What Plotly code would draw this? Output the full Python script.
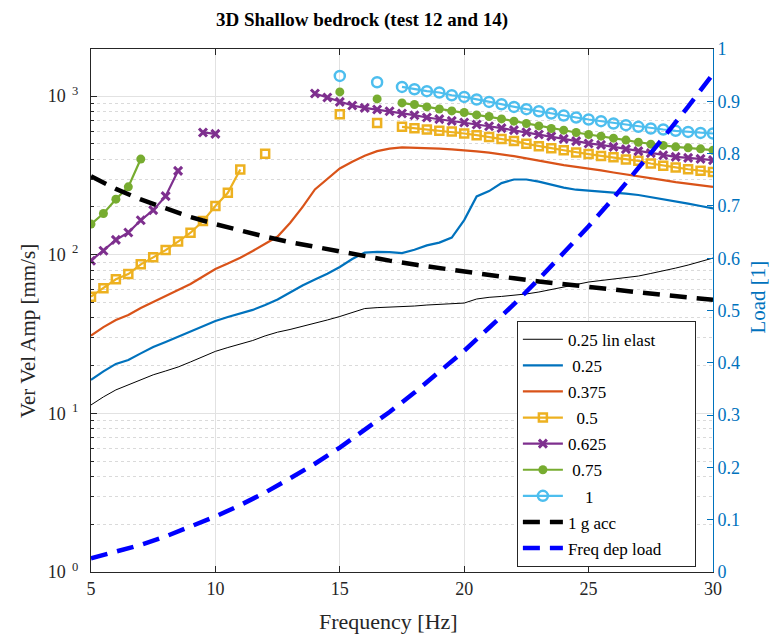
import plotly.graph_objects as go

freq = [5.0, 5.5, 6.0, 6.5, 7.0, 7.5, 8.0, 8.5, 9.0, 9.5,
        10.0, 10.5, 11.0, 11.5, 12.0, 12.5, 13.0, 13.5, 14.0, 14.5,
        15.0, 15.5, 16.0, 16.5, 17.0, 17.5, 18.0, 18.5, 19.0, 19.5,
        20.0, 20.5, 21.0, 21.5, 22.0, 22.5, 23.0, 23.5, 24.0, 24.5,
        25.0, 25.5, 26.0, 26.5, 27.0, 27.5, 28.0, 28.5, 29.0, 29.5, 30.0]

lin_elast = [11.3, 12.7, 14.06, 15.1, 16.4, 17.5, 18.5, 19.6, 21.1, 22.9,
             24.6, 26.0, 27.4, 28.8, 30.8, 32.5, 33.8, 35.3, 37.0, 38.8,
             40.8, 43.3, 45.8, 46.4, 46.6, 46.8, 47.5, 48.2, 48.6, 49.1,
             49.6, 52.6, 53.9, 54.6, 55.3, 56.6, 58.2, 60.4, 62.6, 64.9,
             67.3, 68.8, 70.3, 71.6, 73.4, 76.2, 78.9, 82.4, 86.1, 90.6, 95.3]

amp_025 = [16.25, 18.4, 20.5, 21.7, 23.9, 26.2, 28.2, 30.5, 32.7, 35.6,
           38.2, 40.5, 42.6, 44.9, 48.2, 52.2, 57.8, 64.0, 69.8, 75.9,
           83.7, 94.0, 103.2, 104.4, 104, 102.5, 107.4, 114.6, 119.3, 128.3,
           165.4, 233, 252, 283, 298, 298, 289, 277, 265, 257,
           254, 251, 248, 243, 238, 231, 224, 218, 210, 203, 196]

amp_0375 = [30.9, 35.0, 38.8, 41.7, 46.2, 50.7, 55.0, 59.9, 65.4, 72.9,
            81.3, 88.0, 95.7, 105.5, 116.8, 130.2, 158.4, 199.6, 258, 300,
            350, 386, 421, 450, 467, 475, 473, 470, 467, 461,
            456, 448, 440, 431, 418, 405, 391, 378, 367, 358,
            350, 340, 330, 320, 311, 303, 295, 287, 281, 275, 268]

amp_05 = [54.4, 61.4, 70, 75.6, 87, 96.3, 107, 121, 137.6, 163,
          203, 245.6, 345, None, 433, None, None, None, None, None,
          769, None, None, 678, None, 640, 628, 616, 604, 598,
          581, 567, 553, 537, 522, 500, 483, 470, 456, 441,
          431, 420, 411, 399, 391, 376, 364, 355, 346, 338, 332]

amp_0625 = [91.7, 106, 124, 138, 165, 191, 234, 338, None, 590,
            578, None, None, None, None, None, None, None, 1038, 980,
            919, 873, 843, 823, 803, 777, 758, 733, 716, 698,
            682, 662, 646, 628, 610, 592, 573, 557, 538, 520,
            503, 493, 479, 463, 450, 437, 424, 414, 408, 402, 395]

amp_075 = [156, 182, 224, 268, 401, None, None, None, None, None,
           None, None, None, None, None, None, None, None, None, None,
           1063, None, None, 960, None, 906, 885, 855, 830, 807,
           788, 761, 744, 718, 695, 672, 649, 625, 610, 590,
           573, 559, 543, 528, 512, 498, 489, 479, 472, 465, 456]

amp_1 = [None, None, None, None, None, None, None, None, None, None,
         None, None, None, None, None, None, None, None, None, None,
         1340, None, None, 1223, None, 1143, 1105, 1074, 1054, 1013,
         988, 952, 919, 889, 855, 827, 803, 777, 755, 733,
         712, 695, 672, 656, 640, 625, 616, 604, 595, 586, 581]

freq_int = [5, 6, 7, 8, 9, 10, 11, 12, 13, 14, 15, 16, 17, 18, 19, 20,
            21, 22, 23, 24, 25, 26, 27, 28, 29, 30]
acc_1g = [312, 260, 223, 195, 173, 156, 142, 130, 120, 112, 104, 97.6, 91.8,
          86.7, 82.2, 78.1, 74.3, 71.0, 67.9, 65.1, 62.5, 60.1, 57.8, 55.8,
          53.8, 52.0]
load = [0.026, 0.038, 0.052, 0.068, 0.086, 0.106, 0.128, 0.152, 0.179, 0.207,
        0.238, 0.271, 0.306, 0.343, 0.382, 0.423, 0.467, 0.512, 0.560, 0.610,
        0.661, 0.715, 0.771, 0.830, 0.890, 0.952]

NB = "\u00a0"
names = ["0.25 lin elast" + NB * 8, NB + "0.25", "0.375", NB * 2 + "0.5", "0.625",
         NB + "0.75", NB * 4 + "1", "1 g acc", "Freq dep load"]

FONT = "Liberation Serif"
BLUE = "#0072BD"

fig = go.Figure()
fig.add_trace(go.Scatter(x=freq, y=lin_elast, mode="lines", name=names[0],
                         line=dict(color="black", width=1)))
fig.add_trace(go.Scatter(x=freq, y=amp_025, mode="lines", name=names[1],
                         line=dict(color=BLUE, width=2.2)))
fig.add_trace(go.Scatter(x=freq, y=amp_0375, mode="lines", name=names[2],
                         line=dict(color="#D95319", width=2.2)))
fig.add_trace(go.Scatter(x=freq, y=amp_05, mode="lines+markers", name=names[3],
                         line=dict(color="#EDB120", width=2.2),
                         marker=dict(symbol="square-open", size=8,
                                     line=dict(width=2.5, color="#EDB120"))))
fig.add_trace(go.Scatter(x=freq, y=amp_0625, mode="lines+markers", name=names[4],
                         line=dict(color="#7E2F8E", width=2.2),
                         marker=dict(symbol="x-thin-open", size=8,
                                     line=dict(width=3, color="#7E2F8E"))))
fig.add_trace(go.Scatter(x=freq, y=amp_075, mode="lines+markers", name=names[5],
                         line=dict(color="#77AC30", width=2.2),
                         marker=dict(symbol="circle", size=9, color="#77AC30")))
fig.add_trace(go.Scatter(x=freq, y=amp_1, mode="lines+markers", name=names[6],
                         line=dict(color="#4DBEEE", width=2.2),
                         marker=dict(symbol="circle-open", size=10,
                                     line=dict(width=2.5, color="#4DBEEE"))))
fig.add_trace(go.Scatter(x=freq_int, y=acc_1g, mode="lines", name=names[7],
                         line=dict(color="black", width=4.5, dash="17px,10px")))
fig.add_trace(go.Scatter(x=freq_int, y=load, mode="lines", name=names[8],
                         yaxis="y2",
                         line=dict(color="#0000FF", width=4.5, dash="17px,10px")))

major = [1, 10, 100, 1000]
minor_vals = []
for d in [1, 10, 100, 1000]:
    for k in range(2, 10):
        minor_vals.append(k * d)

fig.update_layout(
    width=776, height=635,
    margin=dict(l=91, r=63, t=49, b=63, autoexpand=False),
    paper_bgcolor="white", plot_bgcolor="white",
    font=dict(family=FONT, size=18, color="#262626"),
    xaxis=dict(range=[5, 30], tickvals=[5, 10, 15, 20, 25, 30],
               ticks="inside", ticklen=6, tickcolor="#262626",
               showline=True, linecolor="#262626", linewidth=1, mirror="ticks",
               showgrid=True, gridcolor="#e2e2e2", zeroline=False,
               automargin=False),
    yaxis=dict(type="log", range=[0, 3.297], tickvals=major,
               ticktext=["10<sup>  0</sup>", "10<sup>  1</sup>", "10<sup>  2</sup>",
                         "10<sup>  3</sup>"],
               ticks="inside", ticklen=6, tickcolor="#262626",
               ticklabelstandoff=8,
               showline=True, linecolor="#262626", linewidth=1,
               showgrid=True, gridcolor="#e2e2e2", zeroline=False,
               automargin=False,
               minor=dict(tickvals=minor_vals, ticks="inside", ticklen=3,
                          tickcolor="#262626", showgrid=True,
                          griddash="dot", gridcolor="#dadada")),
    yaxis2=dict(overlaying="y", side="right", range=[0, 1], dtick=0.1,
                tickformat=".1~f",
                ticks="inside", ticklen=6, tickcolor=BLUE,
                showline=True, linecolor=BLUE, linewidth=1,
                showgrid=False, zeroline=False, automargin=False,
                tickfont=dict(color=BLUE)),
    legend=dict(x=0.6847, xanchor="left", y=0.0101, yanchor="bottom",
                bgcolor="white", bordercolor="#262626", borderwidth=1,
                font=dict(family=FONT, size=17, color="black"),
                traceorder="grouped", tracegroupgap=1, itemwidth=40),
    showlegend=True,
    annotations=[
        dict(text="<b>3D Shallow bedrock (test 12 and 14)</b>", xref="paper",
             yref="paper", x=0.4358, y=1.0548, xanchor="center", yanchor="middle",
             showarrow=False, font=dict(family=FONT, size=19, color="black")),
        dict(text="Frequency [Hz]", xref="paper", yref="paper", x=0.4775,
             y=-0.0955, xanchor="center", yanchor="middle", showarrow=False,
             font=dict(family=FONT, size=22, color="#262626")),
        dict(text="Ver Vel Amp [mm/s]", xref="paper", yref="paper", x=-0.1013,
             y=0.461, xanchor="center", yanchor="middle", textangle=-90,
             showarrow=False, font=dict(family=FONT, size=21, color="#262626")),
        dict(text="Load [1]", xref="paper", yref="paper", x=1.0719,
             y=0.526, xanchor="center", yanchor="middle", textangle=-90,
             showarrow=False, font=dict(family=FONT, size=21, color=BLUE)),
    ],
)
for i, tr in enumerate(fig.data):
    tr.legendgroup = "g%d" % i

fig.write_html("out.html", config={"displayModeBar": False},
               post_script="document.body.style.margin='0';document.body.style.overflow='hidden';")
